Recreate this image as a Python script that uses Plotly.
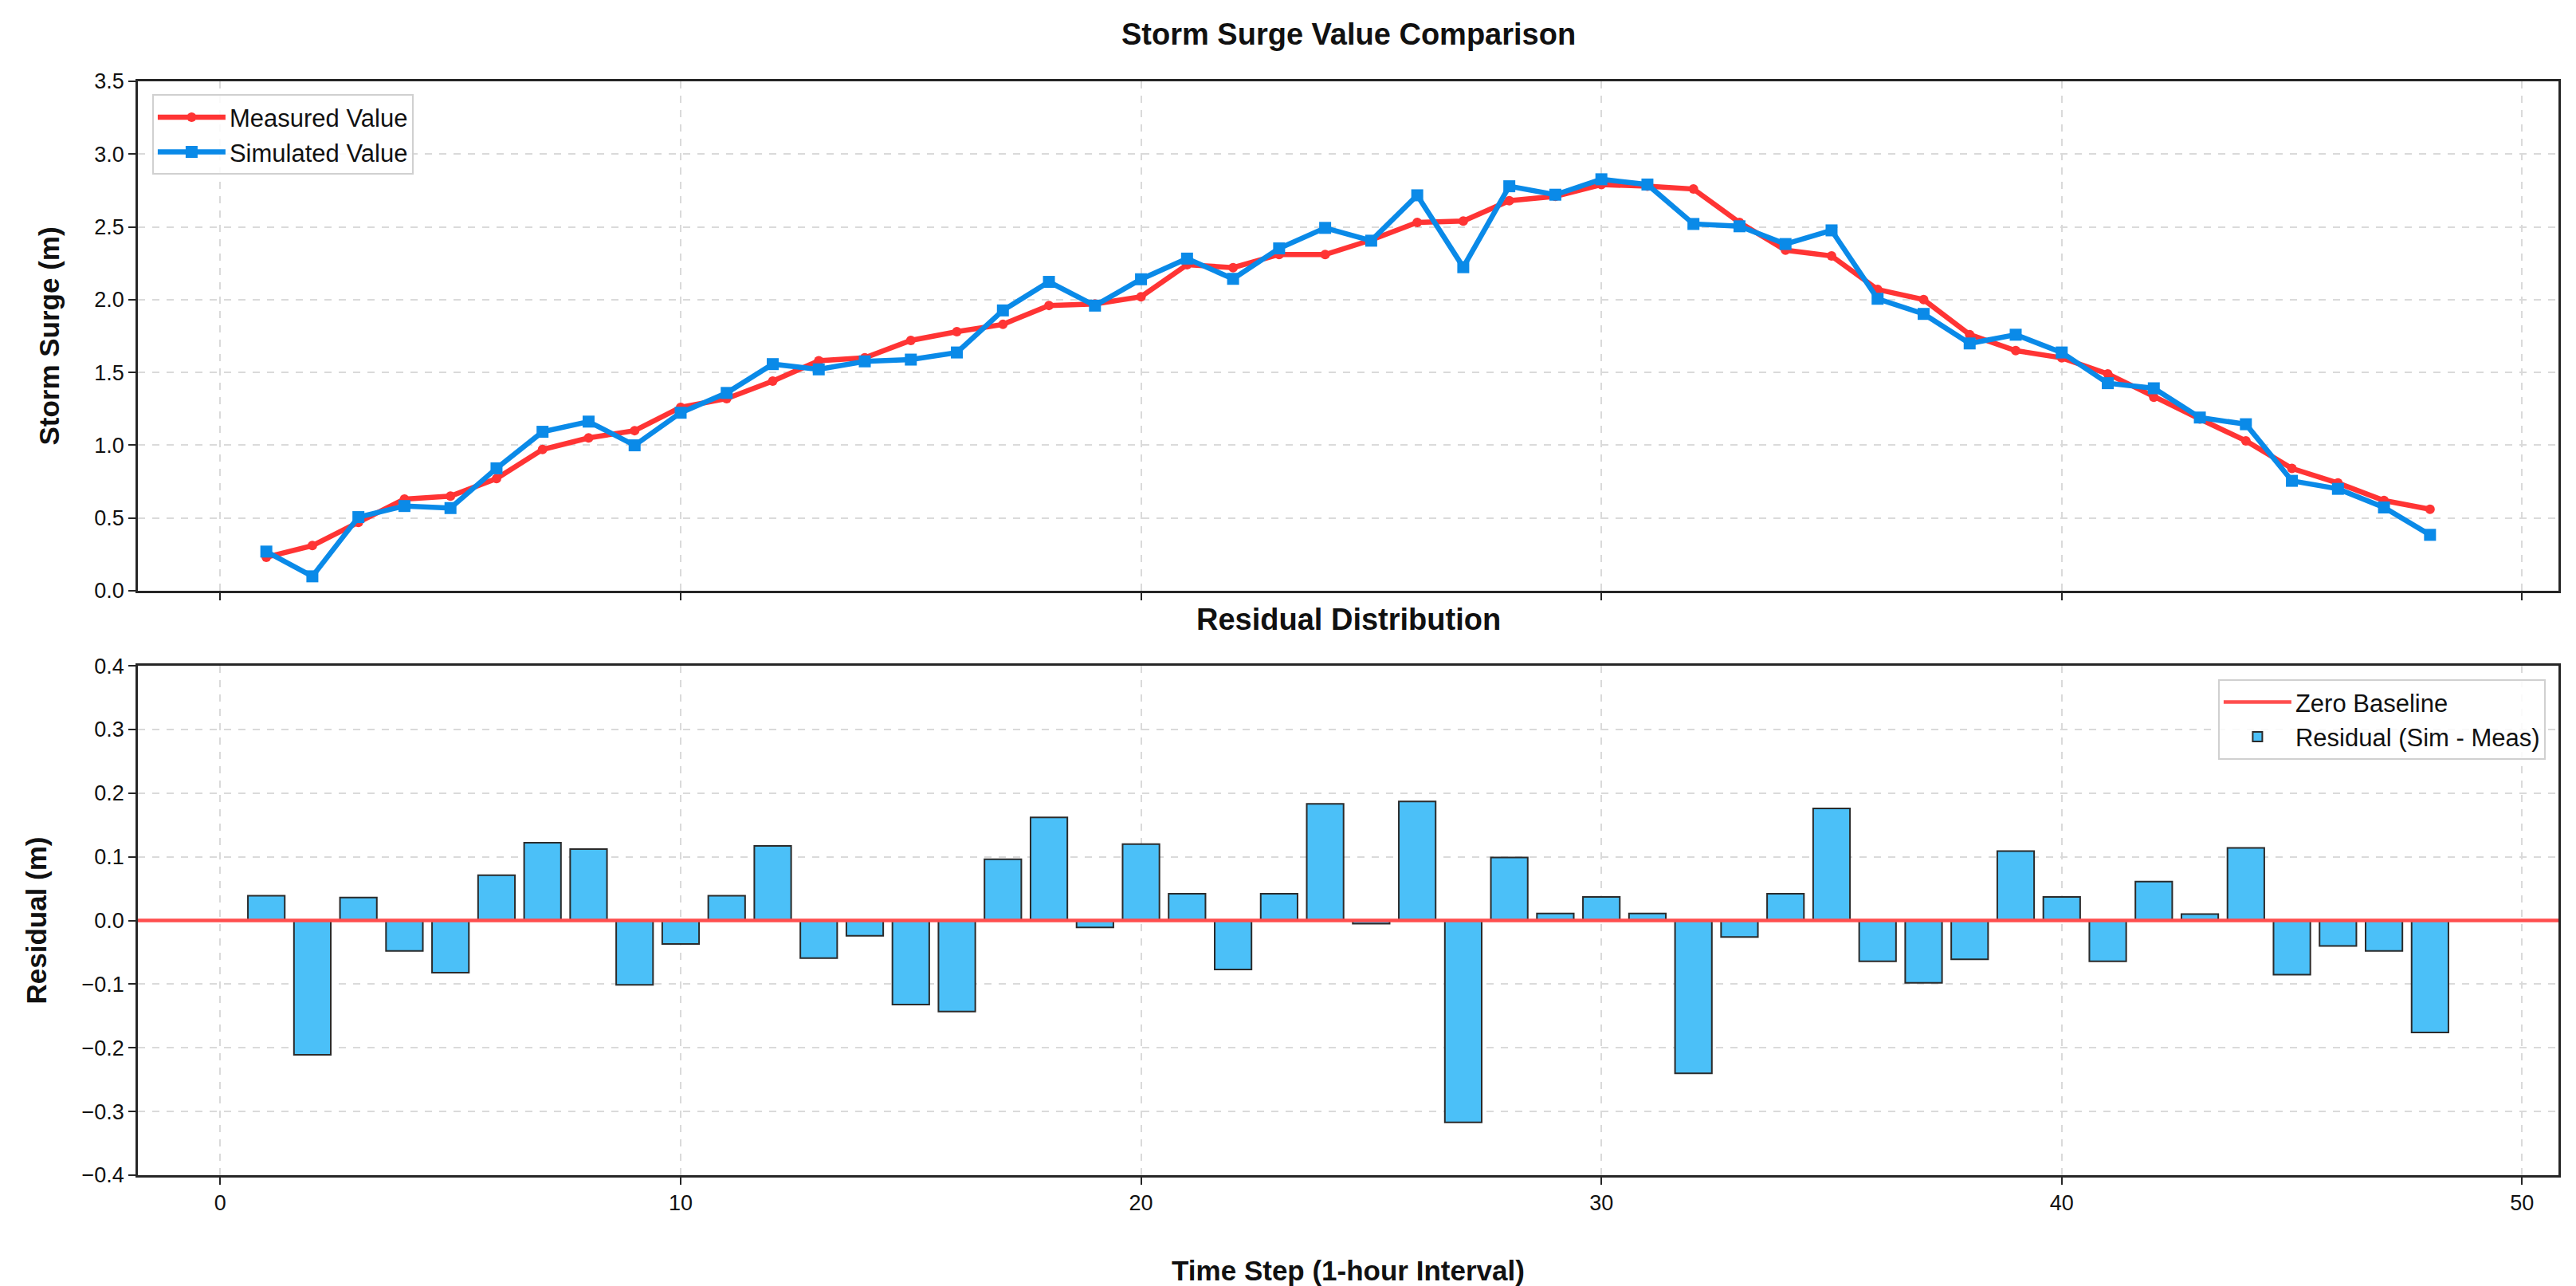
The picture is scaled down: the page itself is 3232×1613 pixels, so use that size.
import plotly.graph_objects as go

# ---------------- data ----------------
time_steps = list(range(1, 49))
measured = [0.23, 0.31, 0.47, 0.63, 0.65, 0.77, 0.97, 1.05, 1.10, 1.26,
            1.32, 1.44, 1.58, 1.60, 1.72, 1.78, 1.83, 1.96, 1.97, 2.02,
            2.24, 2.22, 2.31, 2.31, 2.41, 2.53, 2.54, 2.68, 2.71, 2.79,
            2.78, 2.76, 2.53, 2.34, 2.30, 2.07, 2.00, 1.76, 1.65, 1.60,
            1.49, 1.33, 1.18, 1.03, 0.84, 0.74, 0.62, 0.56]
simulated = [0.269, 0.099, 0.506, 0.582, 0.568, 0.841, 1.092, 1.162, 0.999, 1.223,
             1.359, 1.557, 1.521, 1.576, 1.588, 1.637, 1.926, 2.122, 1.959, 2.140,
             2.282, 2.143, 2.352, 2.493, 2.405, 2.717, 2.223, 2.779, 2.721, 2.827,
             2.791, 2.520, 2.504, 2.382, 2.476, 2.006, 1.902, 1.699, 1.759, 1.637,
             1.426, 1.391, 1.190, 1.144, 0.755, 0.700, 0.572, 0.384]
residual = [0.039, -0.211, 0.036, -0.048, -0.082, 0.071, 0.122, 0.112, -0.101, -0.037,
            0.039, 0.117, -0.059, -0.024, -0.132, -0.143, 0.096, 0.162, -0.011, 0.120,
            0.042, -0.077, 0.042, 0.183, -0.005, 0.187, -0.317, 0.099, 0.011, 0.037,
            0.011, -0.240, -0.026, 0.042, 0.176, -0.064, -0.098, -0.061, 0.109, 0.037,
            -0.064, 0.061, 0.010, 0.114, -0.085, -0.040, -0.048, -0.176]

x_range = [-1.79, 50.79]

# ---------------- styles ----------------
FONT = "Liberation Sans, Arial, Helvetica, sans-serif"
RED = "#FF3434"
BLUE = "#0A8AE8"
BAR = "#4BC0F8"
SPINE = "#262626"
GRID = "#DADADA"

fig = go.Figure()

fig.add_trace(go.Scatter(
    x=time_steps, y=measured, mode="lines+markers", name="Measured Value",
    line=dict(color=RED, width=6.5), marker=dict(symbol="circle", size=12, color=RED),
    xaxis="x", yaxis="y", legend="legend"))
fig.add_trace(go.Scatter(
    x=time_steps, y=simulated, mode="lines+markers", name="Simulated Value",
    line=dict(color=BLUE, width=6.5), marker=dict(symbol="square", size=15, color=BLUE),
    xaxis="x", yaxis="y", legend="legend"))

fig.add_trace(go.Bar(
    x=time_steps, y=residual, width=0.8, name="Residual (Sim - Meas)",
    marker=dict(color=BAR, line=dict(color="#2B2B2B", width=2)),
    xaxis="x2", yaxis="y2", legend="legend2", legendrank=2))
fig.add_trace(go.Scatter(
    x=x_range, y=[0, 0], mode="lines", name="Zero Baseline",
    line=dict(color="#FF4E4E", width=4.5),
    xaxis="x2", yaxis="y2", legend="legend2", legendrank=1))

axis_common = dict(
    showline=True, mirror=True, linecolor=SPINE, linewidth=2.5,
    ticks="outside", ticklen=9, tickwidth=2, tickcolor=SPINE,
    showgrid=True, gridcolor=GRID, gridwidth=1.6, griddash="dash",
    zeroline=False, automargin=False,
    tickfont=dict(family=FONT, size=27, color="#111"),
)

title_font = dict(family=FONT, size=35, color="#111", weight="bold")

fig.update_layout(
    width=3232, height=1613,
    margin=dict(l=173, r=22, t=102, b=139),
    paper_bgcolor="white", plot_bgcolor="white",
    showlegend=True,
    xaxis=dict(domain=[0, 1], range=x_range, dtick=10, tick0=0, anchor="y",
               showticklabels=False, matches="x2", **axis_common),
    yaxis=dict(domain=[0.5343, 1], range=[0, 3.5], dtick=0.5, tickformat=".1f",
               anchor="x", title=dict(text="Storm Surge (m)", font=title_font, standoff=34),
               **axis_common),
    xaxis2=dict(domain=[0, 1], range=x_range, dtick=10, tick0=0, anchor="y2",
                title=dict(text="Time Step (1-hour Interval)", font=title_font, standoff=62),
                **axis_common),
    yaxis2=dict(domain=[0, 0.4657], range=[-0.4, 0.4], dtick=0.1, tickformat=".1f",
                anchor="x2", title=dict(text="Residual (m)", font=title_font, standoff=34),
                **axis_common),
    legend=dict(x=0.0059, y=0.988, xanchor="left", yanchor="top",
                bgcolor="rgba(255,255,255,0.85)", bordercolor="#D0D0D0", borderwidth=2,
                font=dict(family=FONT, size=31, color="#111"), itemwidth=85,
                tracegroupgap=6),
    legend2=dict(x=0.9947, y=0.4534, xanchor="right", yanchor="top",
                 bgcolor="rgba(255,255,255,0.85)", bordercolor="#D0D0D0", borderwidth=2,
                 font=dict(family=FONT, size=31, color="#111"), itemwidth=85,
                 traceorder="normal"),
    annotations=[
        dict(text="Storm Surge Value Comparison", xref="paper", yref="paper",
             x=0.5, y=1.043, xanchor="center", yanchor="middle", showarrow=False,
             font=dict(family=FONT, size=38, color="#111", weight="bold")),
        dict(text="Residual Distribution", xref="paper", yref="paper",
             x=0.5, y=0.508, xanchor="center", yanchor="middle", showarrow=False,
             font=dict(family=FONT, size=38, color="#111", weight="bold")),
    ],
)

fig.write_html("out.html")
